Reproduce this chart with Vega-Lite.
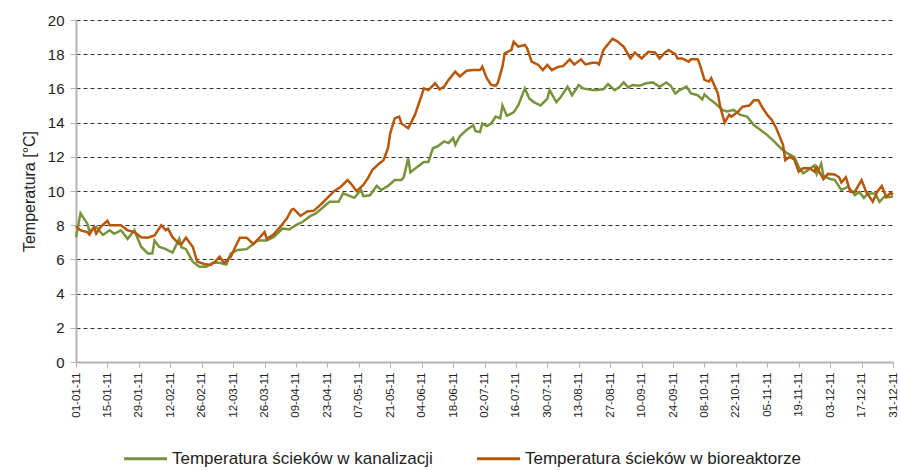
{
  "$schema": "https://vega.github.io/schema/vega-lite/v6.json",
  "width": 817,
  "height": 342,
  "autosize": "none",
  "padding": {"left": 76, "top": 20, "right": 8, "bottom": 108},
  "config": {
    "view": {"stroke": null},
    "font": "Liberation Sans",
    "axis": {"labelColor": "#222", "titleColor": "#222", "labelFont": "Liberation Sans", "titleFont": "Liberation Sans"},
    "legend": {"labelFont": "Liberation Sans", "labelColor": "#222"}
  },
  "datasets": {
    "kan": [
      {"d":"2011-01-01","v":7.3},{"d":"2011-01-03","v":8.7},{"d":"2011-01-06","v":8.1},{"d":"2011-01-07","v":7.65},{"d":"2011-01-10","v":7.9},
      {"d":"2011-01-13","v":7.43},{"d":"2011-01-16","v":7.7},{"d":"2011-01-18","v":7.5},{"d":"2011-01-21","v":7.7},{"d":"2011-01-24","v":7.2},
      {"d":"2011-01-27","v":7.7},{"d":"2011-01-30","v":6.74},{"d":"2011-02-02","v":6.35},{"d":"2011-02-04","v":6.35},{"d":"2011-02-05","v":7.1},
      {"d":"2011-02-07","v":6.74},{"d":"2011-02-10","v":6.6},{"d":"2011-02-13","v":6.4},{"d":"2011-02-16","v":7.2},{"d":"2011-02-17","v":6.7},
      {"d":"2011-02-19","v":6.6},{"d":"2011-02-22","v":5.87},{"d":"2011-02-25","v":5.57},{"d":"2011-02-28","v":5.57},{"d":"2011-03-03","v":5.8},
      {"d":"2011-03-06","v":5.8},{"d":"2011-03-09","v":5.7},{"d":"2011-03-11","v":6.35},{"d":"2011-03-14","v":6.55},{"d":"2011-03-18","v":6.6},
      {"d":"2011-03-23","v":7.1},{"d":"2011-03-27","v":7.1},{"d":"2011-03-30","v":7.3},{"d":"2011-04-03","v":7.8},{"d":"2011-04-06","v":7.75},
      {"d":"2011-04-09","v":8.0},{"d":"2011-04-12","v":8.2},{"d":"2011-04-15","v":8.5},{"d":"2011-04-18","v":8.7},{"d":"2011-04-24","v":9.37},
      {"d":"2011-04-28","v":9.37},{"d":"2011-04-30","v":9.86},{"d":"2011-05-05","v":9.6},{"d":"2011-05-08","v":10.06},{"d":"2011-05-09","v":9.7},
      {"d":"2011-05-12","v":9.75},{"d":"2011-05-15","v":10.3},{"d":"2011-05-17","v":10.06},{"d":"2011-05-20","v":10.3},{"d":"2011-05-23","v":10.64},
      {"d":"2011-05-26","v":10.64},{"d":"2011-05-27","v":10.8},{"d":"2011-05-29","v":11.9},{"d":"2011-05-30","v":11.1},{"d":"2011-06-02","v":11.4},
      {"d":"2011-06-05","v":11.7},{"d":"2011-06-07","v":11.7},{"d":"2011-06-09","v":12.5},{"d":"2011-06-11","v":12.6},{"d":"2011-06-14","v":12.9},
      {"d":"2011-06-16","v":12.8},{"d":"2011-06-18","v":13.1},{"d":"2011-06-19","v":12.7},{"d":"2011-06-21","v":13.2},{"d":"2011-06-24","v":13.57},
      {"d":"2011-06-27","v":13.85},{"d":"2011-06-28","v":13.5},{"d":"2011-06-30","v":13.45},{"d":"2011-07-01","v":13.95},{"d":"2011-07-03","v":13.8},
      {"d":"2011-07-05","v":13.95},{"d":"2011-07-07","v":14.35},{"d":"2011-07-09","v":14.25},{"d":"2011-07-10","v":15.0},{"d":"2011-07-12","v":14.4},
      {"d":"2011-07-15","v":14.6},{"d":"2011-07-17","v":15.0},{"d":"2011-07-20","v":16.0},{"d":"2011-07-22","v":15.4},{"d":"2011-07-24","v":15.2},
      {"d":"2011-07-27","v":15.0},{"d":"2011-07-30","v":15.4},{"d":"2011-07-31","v":15.9},{"d":"2011-08-03","v":15.2},{"d":"2011-08-05","v":15.5},
      {"d":"2011-08-08","v":16.1},{"d":"2011-08-10","v":15.6},{"d":"2011-08-13","v":16.2},{"d":"2011-08-15","v":16.0},{"d":"2011-08-19","v":15.9},
      {"d":"2011-08-21","v":15.9},{"d":"2011-08-24","v":15.95},{"d":"2011-08-26","v":16.25},{"d":"2011-08-29","v":15.9},{"d":"2011-08-31","v":16.06},
      {"d":"2011-09-02","v":16.35},{"d":"2011-09-04","v":16.06},{"d":"2011-09-06","v":16.2},{"d":"2011-09-09","v":16.15},{"d":"2011-09-12","v":16.3},
      {"d":"2011-09-15","v":16.35},{"d":"2011-09-18","v":16.1},{"d":"2011-09-21","v":16.35},{"d":"2011-09-23","v":16.15},{"d":"2011-09-25","v":15.7},
      {"d":"2011-09-27","v":15.9},{"d":"2011-09-30","v":16.1},{"d":"2011-10-02","v":15.7},{"d":"2011-10-05","v":15.6},{"d":"2011-10-07","v":15.36},
      {"d":"2011-10-08","v":15.65},{"d":"2011-10-10","v":15.4},{"d":"2011-10-13","v":15.1},{"d":"2011-10-16","v":14.74},{"d":"2011-10-18","v":14.65},
      {"d":"2011-10-21","v":14.74},{"d":"2011-10-24","v":14.45},{"d":"2011-10-27","v":14.35},{"d":"2011-10-30","v":13.86},{"d":"2011-11-02","v":13.57},
      {"d":"2011-11-05","v":13.27},{"d":"2011-11-08","v":12.9},{"d":"2011-11-11","v":12.5},{"d":"2011-11-14","v":12.2},{"d":"2011-11-17","v":12.0},
      {"d":"2011-11-19","v":11.4},{"d":"2011-11-21","v":11.03},{"d":"2011-11-24","v":11.3},{"d":"2011-11-26","v":11.5},{"d":"2011-11-27","v":11.0},
      {"d":"2011-11-29","v":11.6},{"d":"2011-11-30","v":10.9},{"d":"2011-12-03","v":10.7},{"d":"2011-12-05","v":10.65},{"d":"2011-12-08","v":10.06},
      {"d":"2011-12-11","v":10.25},{"d":"2011-12-14","v":9.76},{"d":"2011-12-16","v":9.94},{"d":"2011-12-18","v":9.6},{"d":"2011-12-20","v":9.86},
      {"d":"2011-12-23","v":9.86},{"d":"2011-12-25","v":9.37},{"d":"2011-12-27","v":9.65},{"d":"2011-12-30","v":9.65},{"d":"2011-12-31","v":9.7}
    ],
    "bio": [
      {"d":"2011-01-01","v":7.95},{"d":"2011-01-03","v":7.7},{"d":"2011-01-06","v":7.6},{"d":"2011-01-07","v":7.45},{"d":"2011-01-09","v":7.9},
      {"d":"2011-01-10","v":7.5},{"d":"2011-01-12","v":7.9},{"d":"2011-01-15","v":8.26},{"d":"2011-01-16","v":8.0},{"d":"2011-01-21","v":8.0},
      {"d":"2011-01-24","v":7.7},{"d":"2011-01-27","v":7.6},{"d":"2011-01-30","v":7.3},{"d":"2011-02-02","v":7.27},{"d":"2011-02-05","v":7.4},
      {"d":"2011-02-08","v":8.0},{"d":"2011-02-10","v":7.7},{"d":"2011-02-11","v":7.8},{"d":"2011-02-13","v":7.3},{"d":"2011-02-16","v":6.9},
      {"d":"2011-02-17","v":6.9},{"d":"2011-02-19","v":7.27},{"d":"2011-02-22","v":6.74},{"d":"2011-02-24","v":5.87},{"d":"2011-02-27","v":5.73},
      {"d":"2011-03-02","v":5.67},{"d":"2011-03-04","v":5.87},{"d":"2011-03-06","v":6.16},{"d":"2011-03-08","v":5.8},{"d":"2011-03-11","v":6.16},
      {"d":"2011-03-13","v":6.74},{"d":"2011-03-15","v":7.27},{"d":"2011-03-18","v":7.27},{"d":"2011-03-21","v":6.9},{"d":"2011-03-24","v":7.3},
      {"d":"2011-03-26","v":7.6},{"d":"2011-03-27","v":7.2},{"d":"2011-03-30","v":7.45},{"d":"2011-04-02","v":7.9},{"d":"2011-04-05","v":8.4},
      {"d":"2011-04-07","v":8.9},{"d":"2011-04-08","v":8.95},{"d":"2011-04-11","v":8.54},{"d":"2011-04-14","v":8.8},{"d":"2011-04-17","v":8.85},
      {"d":"2011-04-20","v":9.2},{"d":"2011-04-23","v":9.6},{"d":"2011-04-26","v":9.99},{"d":"2011-04-29","v":10.25},{"d":"2011-05-02","v":10.64},
      {"d":"2011-05-04","v":10.35},{"d":"2011-05-06","v":9.99},{"d":"2011-05-09","v":10.35},{"d":"2011-05-11","v":10.74},{"d":"2011-05-13","v":11.23},
      {"d":"2011-05-16","v":11.6},{"d":"2011-05-18","v":11.8},{"d":"2011-05-20","v":12.5},{"d":"2011-05-21","v":13.37},{"d":"2011-05-23","v":14.25},
      {"d":"2011-05-25","v":14.35},{"d":"2011-05-26","v":13.95},{"d":"2011-05-29","v":13.67},{"d":"2011-06-01","v":14.45},{"d":"2011-06-04","v":15.6},
      {"d":"2011-06-05","v":16.0},{"d":"2011-06-07","v":15.9},{"d":"2011-06-10","v":16.3},{"d":"2011-06-12","v":15.95},{"d":"2011-06-14","v":16.1},
      {"d":"2011-06-16","v":16.5},{"d":"2011-06-19","v":16.98},{"d":"2011-06-21","v":16.7},{"d":"2011-06-24","v":17.03},{"d":"2011-06-27","v":17.07},
      {"d":"2011-06-30","v":17.07},{"d":"2011-07-01","v":17.27},{"d":"2011-07-03","v":16.6},{"d":"2011-07-05","v":16.2},{"d":"2011-07-07","v":16.15},
      {"d":"2011-07-08","v":16.35},{"d":"2011-07-10","v":17.27},{"d":"2011-07-11","v":18.05},{"d":"2011-07-14","v":18.25},{"d":"2011-07-15","v":18.73},
      {"d":"2011-07-17","v":18.44},{"d":"2011-07-20","v":18.54},{"d":"2011-07-21","v":18.34},{"d":"2011-07-23","v":17.56},{"d":"2011-07-26","v":17.37},
      {"d":"2011-07-28","v":17.07},{"d":"2011-07-30","v":17.37},{"d":"2011-08-01","v":17.07},{"d":"2011-08-04","v":17.27},{"d":"2011-08-06","v":17.3},
      {"d":"2011-08-09","v":17.7},{"d":"2011-08-11","v":17.4},{"d":"2011-08-14","v":17.7},{"d":"2011-08-16","v":17.4},{"d":"2011-08-19","v":17.5},
      {"d":"2011-08-21","v":17.5},{"d":"2011-08-22","v":17.4},{"d":"2011-08-24","v":18.25},{"d":"2011-08-28","v":18.9},{"d":"2011-08-30","v":18.77},
      {"d":"2011-09-02","v":18.44},{"d":"2011-09-05","v":17.75},{"d":"2011-09-07","v":18.1},{"d":"2011-09-10","v":17.75},{"d":"2011-09-13","v":18.14},
      {"d":"2011-09-16","v":18.1},{"d":"2011-09-18","v":17.75},{"d":"2011-09-20","v":18.05},{"d":"2011-09-22","v":18.25},{"d":"2011-09-25","v":18.0},
      {"d":"2011-09-26","v":17.75},{"d":"2011-09-28","v":17.75},{"d":"2011-10-01","v":17.56},{"d":"2011-10-02","v":17.7},{"d":"2011-10-05","v":17.7},
      {"d":"2011-10-06","v":17.37},{"d":"2011-10-08","v":16.5},{"d":"2011-10-10","v":16.4},{"d":"2011-10-11","v":16.6},{"d":"2011-10-14","v":15.7},
      {"d":"2011-10-15","v":14.93},{"d":"2011-10-17","v":14.0},{"d":"2011-10-19","v":14.45},{"d":"2011-10-20","v":14.35},{"d":"2011-10-23","v":14.64},
      {"d":"2011-10-25","v":14.93},{"d":"2011-10-28","v":15.0},{"d":"2011-10-30","v":15.3},{"d":"2011-11-01","v":15.3},{"d":"2011-11-03","v":14.84},
      {"d":"2011-11-05","v":14.45},{"d":"2011-11-07","v":14.15},{"d":"2011-11-09","v":13.67},{"d":"2011-11-12","v":12.7},{"d":"2011-11-13","v":11.8},
      {"d":"2011-11-15","v":12.0},{"d":"2011-11-17","v":11.85},{"d":"2011-11-19","v":11.13},{"d":"2011-11-21","v":11.33},{"d":"2011-11-24","v":11.33},
      {"d":"2011-11-26","v":11.13},{"d":"2011-11-27","v":11.4},{"d":"2011-11-30","v":10.7},{"d":"2011-12-02","v":11.0},{"d":"2011-12-05","v":10.97},
      {"d":"2011-12-07","v":10.8},{"d":"2011-12-08","v":10.5},{"d":"2011-12-10","v":10.8},{"d":"2011-12-12","v":9.96},{"d":"2011-12-14","v":9.96},
      {"d":"2011-12-17","v":10.64},{"d":"2011-12-19","v":9.96},{"d":"2011-12-22","v":9.37},{"d":"2011-12-24","v":9.96},{"d":"2011-12-26","v":10.3},
      {"d":"2011-12-28","v":9.65},{"d":"2011-12-30","v":9.9},{"d":"2011-12-31","v":9.8}
    ]
  },
  "encoding": {
    "x": {
      "field": "d", "type": "temporal",
      "scale": {"type": "utc", "domain": [1293840000000, 1325289600000], "nice": false},
      "axis": {
        "title": null,
        "format": "%d-%m-%y",
        "values": [1293840000000,1295049600000,1296259200000,1297468800000,1298678400000,1299888000000,1301097600000,1302307200000,1303516800000,1304726400000,1305936000000,1307145600000,1308355200000,1309564800000,1310774400000,1311984000000,1313193600000,1314403200000,1315612800000,1316822400000,1318032000000,1319241600000,1320451200000,1321660800000,1322870400000,1324080000000,1325289600000],
        "labelAngle": 270,
        "labelFontSize": 11.5,
        "labelPadding": 5,
        "labelOverlap": false,
        "labelFlush": false,
        "grid": false,
        "domainColor": "#b3b3b3",
        "domainWidth": 2,
        "tickColor": "#b3b3b3",
        "tickSize": 5,
        "tickWidth": 1
      }
    },
    "y": {
      "field": "v", "type": "quantitative",
      "scale": {"domain": [0, 20], "nice": false},
      "axis": {
        "title": "Temperatura [°C]",
        "titleFontSize": 16,
        "titleFontWeight": "normal",
        "titlePadding": 10,
        "values": [0,2,4,6,8,10,12,14,16,18,20],
        "labelFontSize": 15,
        "labelPadding": 6,
        "grid": true,
        "gridColor": "#333",
        "gridDash": [4, 3],
        "gridWidth": 1,
        "domainColor": "#b3b3b3",
        "domainWidth": 2,
        "tickColor": "#b3b3b3",
        "tickSize": 6
      }
    }
  },
  "layer": [
    {
      "data": {"name": "kan"},
      "mark": {"type": "line", "strokeWidth": 2.5},
      "encoding": {
        "color": {
          "datum": "Temperatura ścieków w kanalizacji",
          "type": "nominal",
          "scale": {"domain": ["Temperatura ścieków w kanalizacji", "Temperatura ścieków w bioreaktorze"], "range": ["#77933C", "#B8560A"]},
          "legend": {
            "title": null,
            "orient": "none",
            "direction": "horizontal",
            "legendX": 46,
            "legendY": 415,
            "padding": 0,
            "symbolType": "stroke",
            "symbolSize": 1850,
            "symbolStrokeWidth": 3,
            "labelFontSize": 17,
            "labelLimit": 500,
            "labelOffset": 3,
            "columnPadding": 37
          }
        }
      }
    },
    {
      "data": {"name": "bio"},
      "mark": {"type": "line", "strokeWidth": 2.5},
      "encoding": {
        "color": {"datum": "Temperatura ścieków w bioreaktorze", "type": "nominal"}
      }
    }
  ]
}
